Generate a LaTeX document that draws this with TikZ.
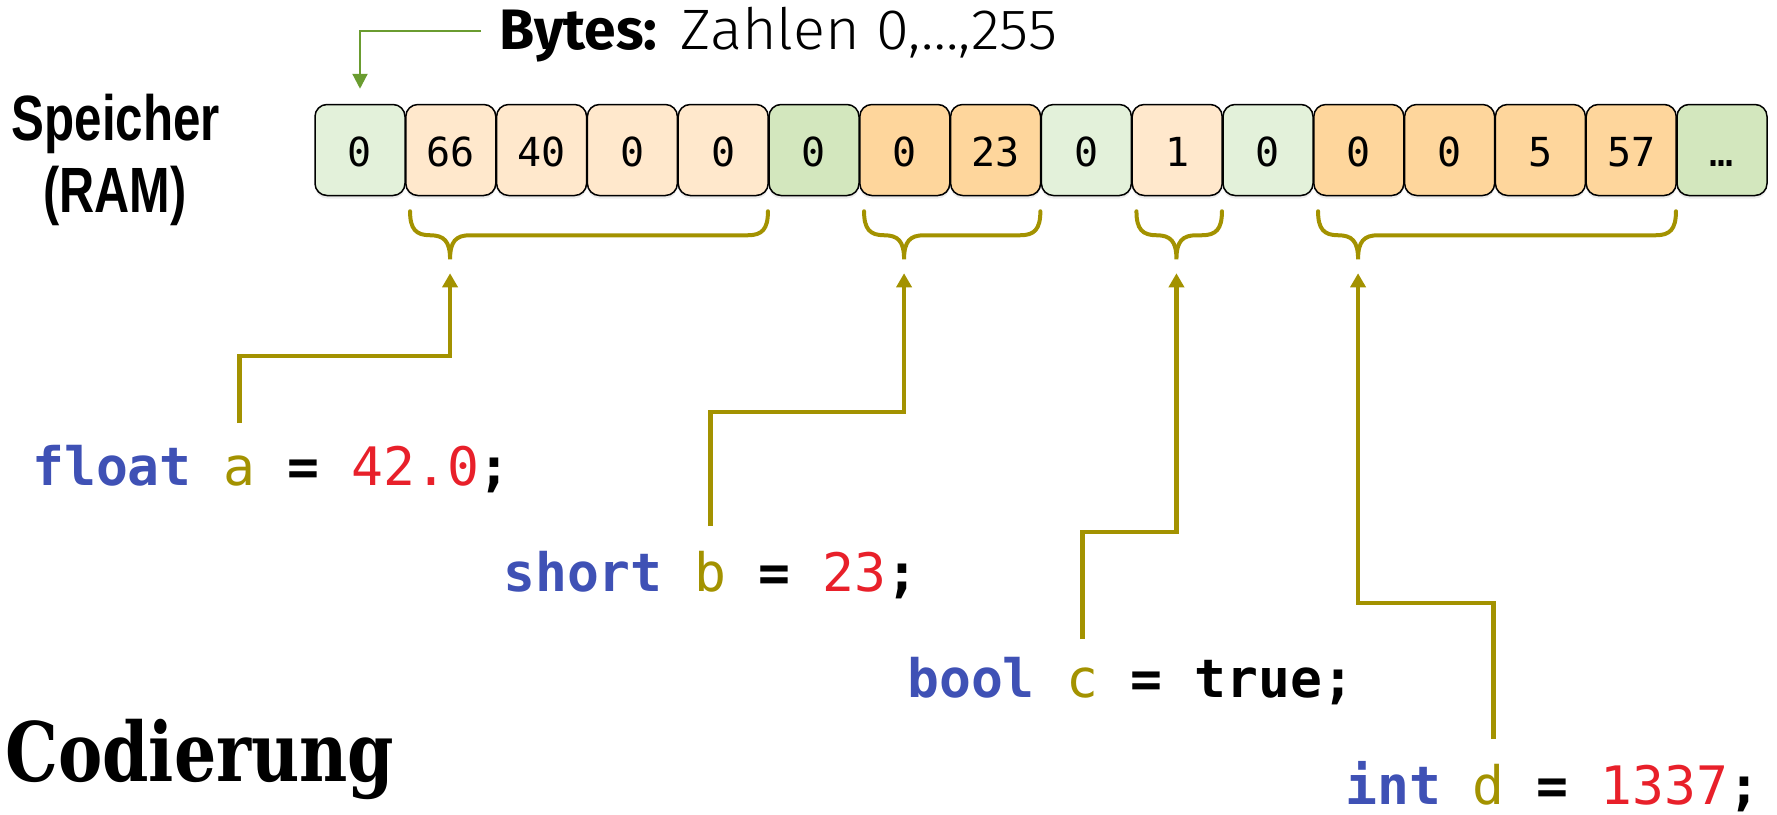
\documentclass[tikz,border=0pt]{standalone}
\usepackage{fontspec}
\usetikzlibrary{arrows.meta,calc,shadows}
\newfontfamily\codefont{DejaVu Sans Mono}
\newfontfamily\lightfont{Fira Sans Light}
\newfontfamily\sansfont{Fira Sans}
\newfontfamily\slabfont{DejaVu Serif}
\newfontfamily\ramfont{Liberation Sans}
\definecolor{lg}{HTML}{E3F1DA}
\definecolor{mg}{HTML}{D3E7BE}
\definecolor{lo}{HTML}{FFE8CC}
\definecolor{og}{HTML}{FED69C}
\definecolor{olive}{HTML}{A39200}
\definecolor{kwblue}{HTML}{3F51B5}
\definecolor{numred}{HTML}{E8202A}
\definecolor{arrgreen}{HTML}{6A9C30}
\newcommand\kw[1]{\textcolor{kwblue}{#1}}
\newcommand\vn[1]{\textcolor{olive}{\mdseries #1}}
\newcommand\nm[1]{\textcolor{numred}{\mdseries #1}}
\newcommand\membrace[3]{%
  \draw[brace] let \p1=($(#1.south west)+(5,15)$), \p2=($(#2.south east)+(-1,15)$) in
    (\p1) .. controls +(0,18) and +(-14,0) .. ($(\p1)+(20,24)$)
    .. controls +(14,0) and +(0,-18) .. ($(\p1)+(40,48)$)
    .. controls +(0,-18) and +(-14,0) .. ($(\p1)+(60,24)$)
    -- ($(\p2)+(-20,24)$)
    .. controls +(14,0) and +(0,18) .. (\p2);
  \coordinate (#3) at ($(#1.south west)+(45,77)$);}
\begin{document}
\begin{tikzpicture}[x=1pt,y=-1pt,
  cell/.style={draw=black, line width=1.5pt, rounded corners=12pt, minimum width=90pt,
    minimum height=91pt, inner sep=0pt, text height=32pt, text depth=0pt,
    font=\codefont\fontsize{40pt}{48pt}\selectfont,
    drop shadow={opacity=0.15,shadow xshift=0pt,shadow yshift=-3pt}},
  code/.style={anchor=base west, inner sep=0pt, font=\codefont\bfseries\fontsize{53pt}{60pt}\selectfont},
  brace/.style={draw=olive, line width=4pt, line cap=round},
  arr/.style={draw=olive, line width=4.5pt, -{Triangle[length=14pt,width=15pt]}},
  garr/.style={draw=arrgreen, line width=2.2pt, -{Triangle[length=15pt,width=15pt]}}]
\path[use as bounding box] (0,0) rectangle (1777,814);
% memory cells
\foreach \v/\c [count=\i from 0] in {0/lg,66/lo,40/lo,0/lo,0/lo,0/mg,0/og,23/og,0/lg,1/lo,0/lg,0/og,0/og,5/og,57/og,…/mg}
  \node[cell, fill=\c] (c\i) at ({315+90.8*\i+45},150) {\v};
% labels
\node[anchor=base, inner sep=0pt, font=\ramfont\bfseries\fontsize{64pt}{72pt}\selectfont] (sp1) at (116,140) {\scalebox{0.77}[1]{Speicher}};
\node[anchor=base, inner sep=0pt, font=\ramfont\bfseries\fontsize{64pt}{72pt}\selectfont] (sp2) at (115,212) {\scalebox{0.76}[1]{(RAM)}};
\node[anchor=base west, inner sep=0pt, font=\fontsize{57pt}{64pt}\selectfont] (bytes) at (499,49) {{\sansfont\bfseries Bytes:} {\lightfont\scalebox{1.045}[1]{Zahlen 0,…,255}}};
\node[anchor=base west, inner sep=0pt, font=\slabfont\bfseries\fontsize{82pt}{90pt}\selectfont] (cod) at (5,781) {\scalebox{0.81}[1]{Codierung}};
\draw[garr] ($(bytes.base west)+(-18,-18)$) -| ($(c0.north)+(0,-15)$);
% braces
\membrace{c1}{c4}{ta}
\membrace{c6}{c7}{tb}
\membrace{c9}{c9}{tc}
\membrace{c11}{c14}{td}
% code lines
\node[code] (la) at (32,485) {\kw{float} \vn{a} = \nm{42.0};};
\node[code] (lb) at (503,591) {\kw{short} \vn{b} = \nm{23};};
\node[code] (lc) at (907,697) {\kw{bool} \vn{c} = true;};
\node[code] (ld) at (1345,804) {\kw{int} \vn{d} = \nm{1337};};
\coordinate (sa) at ($(la.base west)+(6.5*31.9,-62)$);
\coordinate (sb) at ($(lb.base west)+(6.5*31.9,-65)$);
\coordinate (sc) at ($(lc.base west)+(5.5*31.9,-58)$);
\coordinate (sd) at ($(ld.base west)+(4.65*31.9,-65)$);
\draw[arr] (sa) -- ++(0,-67) -| (ta);
\draw[arr] (sb) -- ++(0,-114) -| (tb);
\draw[arr] (sc) -- ++(0,-107) -| (tc);
\draw[arr] (sd) -- ++(0,-136) -| (td);
\end{tikzpicture}
\end{document}
